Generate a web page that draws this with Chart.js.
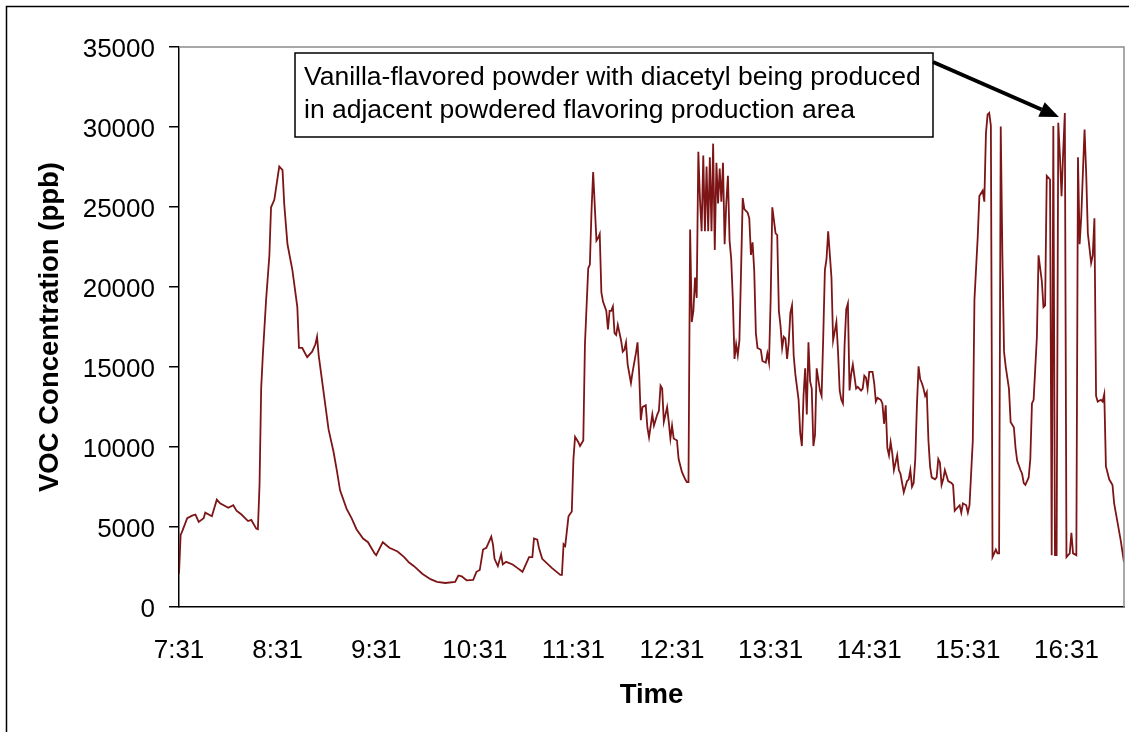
<!DOCTYPE html>
<html>
<head>
<meta charset="utf-8">
<title>VOC Concentration</title>
<script src="https://cdn.jsdelivr.net/npm/chart.js@4.4.1/dist/chart.umd.min.js"></script>
<style>
  html, body { margin: 0; padding: 0; background: #fff; overflow: hidden; }
  #wrap { width: 1129px; height: 732px; }
</style>
</head>
<body>
<div id="wrap"><canvas id="vocChart" width="1129" height="732"></canvas></div>
<script>
// --- Data: minutes after 7:31 and VOC reading (ppb) ---
const minutes = [
    0, 1, 2, 5, 8, 10, 12, 15, 16, 20, 23, 25, 30, 33, 35, 38, 42, 44, 47, 48,
    49, 50, 51, 53, 55, 56, 58, 60, 61, 63, 64, 66, 69, 72, 73, 75, 78, 81, 83, 84,
    85, 88, 91, 94, 96, 98, 102, 105, 108, 112, 115, 119, 120, 124, 128, 133, 137, 140, 143, 148,
    153, 157, 162, 168, 170, 172, 175, 179, 181, 183, 185, 187, 190, 191, 192, 194, 196, 197, 199, 203,
    206, 209, 212, 213, 215, 216, 218, 219, 221, 227, 232, 233, 234, 235, 237, 239, 240, 241, 243, 244,
    246, 247, 249, 250, 251, 252, 254, 255, 256, 257, 258, 260, 261, 262, 263, 264, 265, 266, 267, 269,
    270, 271, 272, 273, 275, 276, 278, 279, 280, 281, 282, 284, 285, 286, 288, 289, 291, 292, 293, 294,
    295, 297, 298, 299, 300, 301, 303, 304, 306, 308, 309, 310, 311, 312, 313, 314, 315, 316, 317, 318,
    319, 320, 321, 322, 323, 324, 325, 326, 327, 328, 329, 330, 331, 332, 333, 334, 335, 336, 337, 338,
    339, 340, 341, 342, 343, 344, 346, 347, 348, 349, 350, 351, 352, 354, 355, 357, 358, 359, 360, 361,
    363, 364, 365, 366, 367, 368, 369, 370, 371, 372, 373, 374, 375, 376, 377, 378, 379, 380, 381, 382,
    383, 384, 385, 386, 387, 388, 390, 391, 392, 393, 394, 395, 397, 398, 399, 400, 401, 402, 403, 404,
    405, 406, 407, 408, 409, 410, 412, 413, 415, 416, 417, 418, 419, 420, 422, 423, 424, 425, 427, 428,
    429, 430, 431, 432, 433, 434, 435, 437, 438, 439, 440, 441, 443, 444, 445, 446, 447, 448, 449, 450,
    451, 452, 453, 454, 455, 456, 457, 458, 460, 461, 462, 463, 464, 465, 466, 468, 470, 471, 472, 474,
    475, 476, 477, 479, 480, 481, 483, 484, 486, 487, 489, 490, 491, 492, 493, 494, 495, 496, 497, 498,
    499, 500, 501, 502, 503, 505, 506, 508, 509, 510, 512, 513, 514, 515, 517, 518, 519, 520, 522, 523,
    525, 526, 527, 528, 530, 531, 532, 533, 534, 535, 536, 537, 538, 539, 540, 541, 542, 543, 544, 546,
    547, 548, 549, 550, 551, 552, 553, 555, 556, 557, 558, 559, 561, 562, 563, 564, 566, 568, 569, 571,
    573, 574, 575
];
const voc = [
    2080, 4510, 4740, 5550, 5710, 5780, 5320, 5550, 5900, 5670, 6710, 6480, 6200, 6360, 6020, 5780, 5370, 5440, 4900, 4860,
    7630, 13650, 15730, 19200, 21980, 24980, 25450, 26830, 27530, 27300, 25220, 22670, 21050, 18740, 16190, 16190, 15620, 15960, 16420, 16890,
    15730, 13420, 11100, 9720, 8560, 7290, 6130, 5550, 4860, 4280, 4050, 3350, 3240, 4050, 3700, 3470, 3120, 2780, 2550, 2080,
    1740, 1570, 1500, 1570, 1970, 1920, 1670, 1690, 2200, 2310, 3590, 3700, 4400, 3930, 3010, 2550, 3290, 2660, 2820, 2660,
    2430, 2200, 2890, 3120, 3120, 4280, 4210, 3700, 3010, 2430, 2010, 2010, 3930, 3820, 5670, 5970, 9250, 10640, 10300, 10060,
    10410, 16420, 21170, 21400, 24750, 27180, 22900, 23060, 23320, 19660, 19090, 18510, 17350, 18510, 18510, 18780, 17120, 17000, 17630, 16660,
    15960, 16080, 16540, 15150, 14000, 14690, 15850, 16540, 14570, 11680, 12490, 12610, 11220, 10600, 12030, 11340, 12030, 12260, 13830, 13650,
    11570, 12490, 11570, 10530, 11340, 10530, 10410, 9250, 8440, 7980, 7800, 7800, 23600, 17810, 18510, 20590, 19320, 28450, 25450, 23480,
    28220, 23480, 27530, 23480, 28110, 23480, 28960, 22320, 27760, 25220, 27410, 25330, 27760, 22670, 25220, 26950, 22900, 21750, 19200, 15500,
    16420, 15730, 16660, 21050, 25560, 24870, 24640, 24290, 22000, 22790, 21050, 17120, 16190, 16080, 15380, 15270, 15850, 15270, 19200, 24980,
    23360, 23250, 18510, 17580, 16190, 16890, 16770, 15500, 16540, 18390, 18850, 15730, 14570, 13760, 12950, 10870, 10060, 13190, 14920, 12030,
    16540, 14110, 13650, 10060, 10760, 14920, 13530, 13190, 16890, 21050, 21750, 23480, 20590, 16660, 17230, 17810, 15960, 13530, 12950, 12720,
    16420, 18620, 18970, 13530, 14570, 15150, 13650, 13760, 13530, 13650, 14460, 14340, 13650, 14690, 14690, 14000, 12840, 13070, 12950, 12720,
    11450, 12610, 9950, 9480, 10300, 9600, 8560, 9480, 8560, 8330, 7750, 7170, 7870, 7980, 8560, 7520, 7750, 9250, 12610, 15040,
    14230, 14000, 13650, 13190, 13420, 10410, 8790, 8100, 7980, 8100, 9250, 9020, 7630, 7980, 8560, 7870, 7750, 7630, 6020, 6250,
    6360, 5900, 6480, 6360, 5900, 6360, 10410, 19200, 23130, 25680, 26020, 25330, 29610, 30770, 30880, 30070, 3120, 3350, 3590, 3350,
    3350, 30030, 21980, 15960, 15040, 13650, 11570, 11220, 9950, 9140, 8560, 8330, 7750, 7630, 8100, 9250, 12720, 12950, 16890, 21980,
    20360, 18740, 18850, 26950, 26720, 3240, 30070, 3240, 3240, 30260, 28220, 25680, 28450, 30880, 3120, 3240, 3350, 4630, 3350, 3240,
    28110, 22670, 24410, 27180, 29840, 27070, 23360, 21510, 21980, 24290, 13190, 12840, 12950, 12840, 13300, 8790, 7980, 7630, 6480, 5320,
    4160, 3470, 2800
];
const tickLabels = ['7:31', '8:31', '9:31', '10:31', '11:31', '12:31', '13:31', '14:31', '15:31', '16:31'];
const yTicks = [0, 5000, 10000, 15000, 20000, 25000, 30000, 35000];
const noteLines = [
    'Vanilla-flavored powder with diacetyl being produced',
    'in adjacent powdered flavoring production area'
];
// where the arrow points (minute, ppb)
const notePoint = [535.4, 30620];

const FONT = "'Liberation Sans', Arial, Helvetica, sans-serif";
Chart.defaults.font.family = FONT;
Chart.defaults.color = '#000';

// outer frame, plot border and the callout box with its arrow
const chartDecor = {
    id: 'chartDecor',
    beforeDraw(chart) {
        const ctx = chart.ctx;
        ctx.save();
        ctx.fillStyle = '#fff';
        ctx.fillRect(0, 0, chart.width, chart.height);
        ctx.strokeStyle = '#000';
        ctx.lineWidth = 1.5;
        ctx.beginPath();
        ctx.moveTo(6.5, chart.height);
        ctx.lineTo(6.5, 6.5);
        ctx.lineTo(chart.width, 6.5);
        ctx.stroke();
        ctx.restore();
    },
    afterDraw(chart) {
        const { ctx, chartArea: a, scales } = chart;
        ctx.save();
        ctx.strokeStyle = '#8c8c8c';
        ctx.lineWidth = 1.5;
        ctx.beginPath();
        ctx.moveTo(a.left, a.top);
        ctx.lineTo(a.right, a.top);
        ctx.lineTo(a.right, a.bottom);
        ctx.stroke();

        // callout box
        const bx = a.left + 116, by = a.top + 6, bw = 638, bh = 84;
        ctx.fillStyle = '#fff';
        ctx.fillRect(bx, by, bw, bh);
        ctx.strokeStyle = '#000';
        ctx.lineWidth = 1.5;
        ctx.strokeRect(bx, by, bw, bh);
        ctx.fillStyle = '#000';
        ctx.font = '26.5px ' + FONT;
        ctx.textBaseline = 'alphabetic';
        ctx.textAlign = 'left';
        noteLines.forEach((t, i) => ctx.fillText(t, bx + 9, by + 32 + i * 33));

        // arrow
        const x0 = bx + bw, y0 = by + 9;
        const x1 = scales.x.getPixelForValue(notePoint[0]);
        const y1 = scales.y.getPixelForValue(notePoint[1]);
        const ang = Math.atan2(y1 - y0, x1 - x0);
        const headLen = 19, headW = 8;
        const hx = x1 - headLen * Math.cos(ang), hy = y1 - headLen * Math.sin(ang);
        ctx.lineWidth = 4;
        ctx.beginPath();
        ctx.moveTo(x0, y0);
        ctx.lineTo(hx, hy);
        ctx.stroke();
        ctx.beginPath();
        ctx.moveTo(x1, y1);
        ctx.lineTo(hx + headW * Math.sin(ang), hy - headW * Math.cos(ang));
        ctx.lineTo(hx - headW * Math.sin(ang), hy + headW * Math.cos(ang));
        ctx.closePath();
        ctx.fill();
        ctx.restore();
    }
};

const ctx = document.getElementById('vocChart').getContext('2d');
const vocChart = new Chart(ctx, {
    type: 'line',
    data: {
        datasets: [{
            data: minutes.map((m, i) => ({ x: m, y: voc[i] })),
            borderColor: '#7d1517',
            borderWidth: 1.8,
            pointRadius: 0,
            tension: 0,
            fill: false
        }]
    },
    options: {
        responsive: false,
        animation: false,
        devicePixelRatio: 1,
        layout: { padding: { top: 47, right: 5, left: 0, bottom: 0 } },
        plugins: { legend: { display: false }, tooltip: { enabled: false } },
        scales: {
            x: {
                type: 'linear',
                min: 0,
                max: 575,
                afterFit: s => { s.height = 125; },
                grid: { drawOnChartArea: false, drawTicks: false },
                border: { color: '#000', width: 1.5 },
                ticks: {
                    stepSize: 60,
                    includeBounds: false,
                    autoSkip: false,
                    maxRotation: 0,
                    padding: 28,
                    font: { size: 26 },
                    color: '#000',
                    callback: v => tickLabels[v / 60] || ''
                },
                title: {
                    display: true,
                    text: 'Time',
                    font: { size: 27.5, weight: 'bold' },
                    color: '#000',
                    padding: { top: 0, bottom: 20 }
                }
            },
            y: {
                min: 0,
                max: 35000,
                afterFit: s => { s.width = 179; },
                afterBuildTicks: s => { s.ticks = yTicks.map(v => ({ value: v })); },
                grid: { drawOnChartArea: false, drawTicks: true, tickLength: 10, color: '#000', lineWidth: 1.5 },
                border: { color: '#000', width: 1.5 },
                ticks: {
                    padding: 14,
                    labelOffset: 3,
                    font: { size: 26 },
                    color: '#000',
                    callback: v => String(v)
                },
                title: {
                    display: true,
                    text: 'VOC Concentration (ppb)',
                    font: { size: 27.5, weight: 'bold' },
                    color: '#000',
                    padding: { top: 34, bottom: 0 }
                }
            }
        }
    },
    plugins: [chartDecor]
});
</script>
</body>
</html>
